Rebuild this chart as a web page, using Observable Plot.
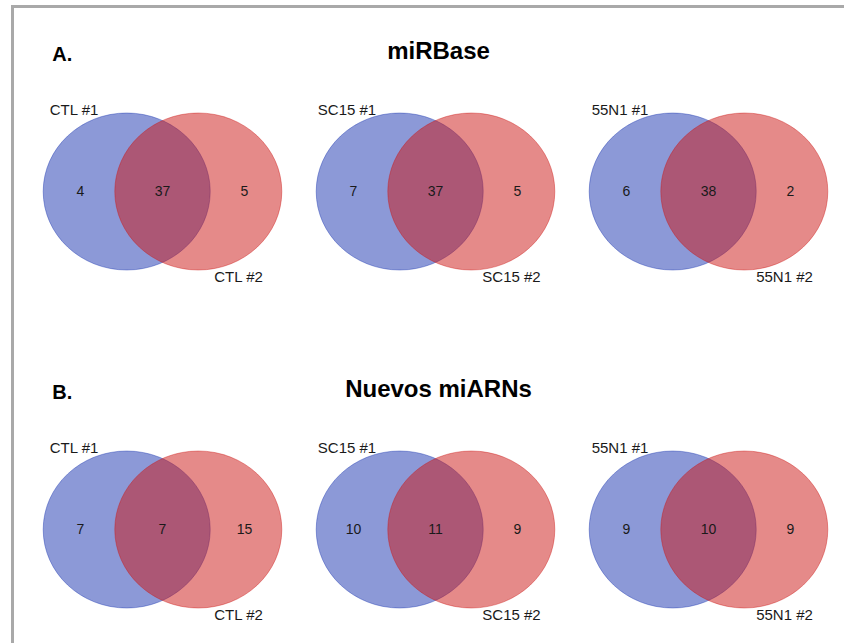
<!DOCTYPE html>
<html>
<head>
<meta charset="utf-8">
<script src="https://cdn.jsdelivr.net/npm/d3@7"></script>
<script src="https://cdn.jsdelivr.net/npm/@observablehq/plot@0.6"></script>
<style>
  html, body { margin: 0; padding: 0; background: #fff; }
  #page { position: relative; width: 844px; height: 643px; overflow: hidden; }
  #edge {
    position: absolute; left: 11px; top: 5px; right: -20px; bottom: -20px;
    border-top: 3px solid #a9a9a9; border-left: 3px solid #a9a9a9;
  }
  #page svg { position: absolute; left: 0; top: 0; }
</style>
</head>
<body>
<div id="page"><div id="edge"></div></div>
<script>
// Samples (columns) and miRNA sets (rows)
const samples = ["CTL", "SC15", "55N1"];
const sections = ["miRBase", "Nuevos miARNs"];
const sectionLetters = ["A.", "B."];
const replicates = ["#1", "#2"];

// miRNAs found only in replicate #1, in both replicates, only in replicate #2
const miRBaseOnly1 = [4, 7, 6];
const miRBaseShared = [37, 37, 38];
const miRBaseOnly2 = [5, 5, 2];
const novelOnly1 = [7, 10, 9];
const novelShared = [7, 11, 10];
const novelOnly2 = [15, 9, 9];

const regionCounts = {
  only1: [miRBaseOnly1, novelOnly1],
  shared: [miRBaseShared, novelShared],
  only2: [miRBaseOnly2, novelOnly2]
};

const panels = sections.flatMap((section) =>
  samples.map((sample) => ({
    section,
    sample,
    label1: `${sample} ${replicates[0]}`,
    label2: `${sample} ${replicates[1]}`
  }))
);

const regionRows = (key) =>
  sections.flatMap((section, s) =>
    samples.map((sample, i) => ({section, sample, value: regionCounts[key][s][i]}))
  );

const titleRows = sections.map((section) => ({section, sample: samples[1], title: section}));
const letterRows = sections.map((section, s) => ({section, sample: samples[0], letter: sectionLetters[s]}));

// Slightly wide ellipse drawn as a custom symbol (area-preserving)
const aspect = Math.sqrt(83.5 / 78.5);
const K = 0.5522847498;
const ellipse = {
  draw(context, size) {
    const r = Math.sqrt(size / Math.PI);
    const rx = r * aspect, ry = r / aspect;
    context.moveTo(rx, 0);
    context.bezierCurveTo(rx, K * ry, K * rx, ry, 0, ry);
    context.bezierCurveTo(-K * rx, ry, -rx, K * ry, -rx, 0);
    context.bezierCurveTo(-rx, -K * ry, -K * rx, -ry, 0, -ry);
    context.bezierCurveTo(K * rx, -ry, rx, -K * ry, rx, 0);
    context.closePath();
  }
};

const R = Math.sqrt(83.5 * 78.5);
const blue = "#1a34b0";
const red = "#cc1614";
const ink = "#1a1a1a";
const pos = {x: "sample", y: "section"};

const chart = Plot.plot({
  width: 844,
  height: 643,
  margin: 0,
  style: {fontFamily: "'Liberation Sans', Arial, Helvetica, sans-serif", background: "transparent", color: ink},
  x: {type: "point", domain: samples, range: [161, 708.2], padding: 0, axis: null},
  y: {type: "point", domain: sections, range: [190.5, 528.5], padding: 0, axis: null},
  marks: [
    Plot.dot(panels, {...pos, dx: -35.8, r: R, symbol: ellipse,
      fill: blue, fillOpacity: 0.5, stroke: blue, strokeOpacity: 0.4, strokeWidth: 1}),
    Plot.dot(panels, {...pos, dx: 35.8, r: R, symbol: ellipse,
      fill: red, fillOpacity: 0.5, stroke: red, strokeOpacity: 0.4, strokeWidth: 1}),
    Plot.text(regionRows("only1"), {...pos, text: "value", dx: -82, fontSize: 14, fill: ink}),
    Plot.text(regionRows("shared"), {...pos, text: "value", dx: 0, fontSize: 14, fill: ink}),
    Plot.text(regionRows("only2"), {...pos, text: "value", dx: 82, fontSize: 14, fill: ink}),
    Plot.text(panels, {...pos, text: "label1", dx: -88.5, dy: -77, lineAnchor: "bottom", fontSize: 15, fill: ink}),
    Plot.text(panels, {...pos, text: "label2", dx: 76, dy: 90.5, lineAnchor: "bottom", fontSize: 15, fill: ink}),
    Plot.text(titleRows, {...pos, text: "title", dx: 3, dy: -133, lineAnchor: "bottom",
      fontSize: 24, fontWeight: "bold", fill: "#000"}),
    Plot.text(letterRows, {...pos, text: "letter", dx: -110.3, dy: -131, textAnchor: "start",
      lineAnchor: "bottom", fontSize: 20, fontWeight: "bold", fill: "#000"})
  ]
});

document.getElementById("page").appendChild(chart);
</script>
</body>
</html>
